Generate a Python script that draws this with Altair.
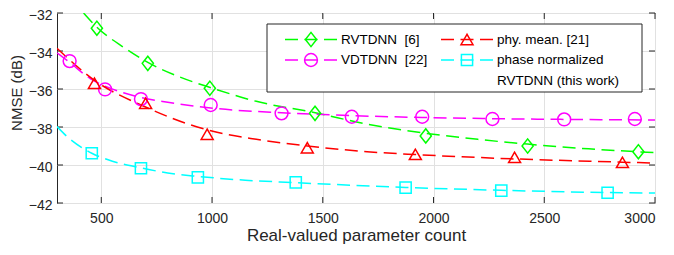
import altair as alt
import pandas as pd

FONT = "Liberation Sans"
TXT = "#262626"

series = ["RVTDNN", "VDTDNN", "phy. mean.", "phase normalized RVTDNN"]
legend_lines = [["RVTDNN\u00a0 [6]"], ["VDTDNN\u00a0 [22]"], ["phy. mean. [21]"],
                ["phase normalized", "RVTDNN (this work)"]]
colors = ["#00ff00", "#ff00ff", "#ff0000", "#00ffff"]
shapes = ["M0,-1.27L1,0L0,1.27L-1,0Z", "circle", "triangle-up", "square"]
sizes = [125, 165, 144, 125]

# marker values
mx_rv = [480, 710, 990, 1465, 1965, 2425, 2925]
my_rv = [-32.8, -34.65, -35.96, -37.28, -38.47, -39.0, -39.3]
mx_vd = [357, 517, 679, 994, 1314, 1631, 1949, 2266, 2590, 2909]
my_vd = [-34.53, -36.02, -36.53, -36.84, -37.28, -37.46, -37.46, -37.58, -37.6, -37.58]
mx_ph = [469, 700, 978, 1430, 1918, 2366, 2853]
my_ph = [-35.7, -36.75, -38.38, -39.09, -39.44, -39.6, -39.86]
mx_pn = [457, 679, 936, 1378, 1874, 2306, 2786]
my_pn = [-39.38, -40.17, -40.65, -40.91, -41.19, -41.35, -41.46]

# fitted (dashed) curve values
cx_rv = [420, 480, 600, 710, 850, 1000, 1200, 1466, 1700, 1964, 2200, 2424, 2700, 3000]
cy_rv = [-32.0, -32.75, -33.8, -34.6, -35.35, -35.95, -36.65, -37.25, -37.85, -38.33, -38.65, -38.9, -39.15, -39.35]
cx_vd = [300, 357, 450, 517, 600, 679, 800, 994, 1314, 1631, 1949, 2266, 2590, 3000]
cy_vd = [-34.1, -34.6, -35.45, -35.85, -36.2, -36.45, -36.7, -37.0, -37.25, -37.4, -37.5, -37.56, -37.6, -37.63]
cx_ph = [300, 470, 700, 978, 1200, 1430, 1700, 1918, 2366, 2853, 3000]
cy_ph = [-33.86, -35.55, -36.95, -38.15, -38.65, -39.0, -39.3, -39.45, -39.68, -39.85, -39.9]
cx_pn = [300, 350, 457, 550, 679, 800, 936, 1150, 1378, 1874, 2306, 2786, 3000]
cy_pn = [-37.98, -38.55, -39.38, -39.8, -40.15, -40.42, -40.6, -40.8, -40.93, -41.18, -41.33, -41.45, -41.48]

x_ticks = [500, 1000, 1500, 2000, 2500, 3000]
y_ticks = [-42, -40, -38, -36, -34, -32]
x_domain = [300, 3000]
y_domain = [-42, -32]

W, H = 598, 190
DASH = [13, 6.5]

markers = [(mx_rv, my_rv), (mx_vd, my_vd), (mx_ph, my_ph), (mx_pn, my_pn)]
curves = [(cx_rv, cy_rv), (cx_vd, cy_vd), (cx_ph, cy_ph), (cx_pn, cy_pn)]

xs = alt.Scale(domain=x_domain, nice=False, zero=False)
ys = alt.Scale(domain=y_domain, nice=False, zero=False)

x_axis = alt.Axis(values=x_ticks, title="Real-valued parameter count",
                  ticks=False, domain=False, labelPadding=8,
                  titlePadding=2, format="d", labelOverlap=False,
                  titleFontSize=17)
y_axis = alt.Axis(values=y_ticks, title="NMSE (dB)",
                  ticks=False, domain=False, labelPadding=5, labelOffset=2,
                  labelOverlap=False, titleFontSize=15,
                  titleX=-40.7, titleY=79.5, titleAngle=270,
                  titleBaseline="middle", titleAlign="center")


def X():
    return alt.X("x:Q", scale=xs, axis=x_axis)


def Y():
    return alt.Y("y:Q", scale=ys, axis=y_axis)


layers = []

# inward tick marks on all four sides
tx = pd.DataFrame({"x": x_ticks})
ty = pd.DataFrame({"y": y_ticks})
tick_style = dict(color=TXT, strokeWidth=1)
layers.append(alt.Chart(tx).mark_rule(**tick_style).encode(
    x=X(), y=alt.value(H), y2=alt.value(H - 6)))
layers.append(alt.Chart(tx).mark_rule(**tick_style).encode(
    x=X(), y=alt.value(0), y2=alt.value(6)))
layers.append(alt.Chart(ty).mark_rule(**tick_style).encode(
    y=Y(), x=alt.value(0), x2=alt.value(6)))
layers.append(alt.Chart(ty).mark_rule(**tick_style).encode(
    y=Y(), x=alt.value(W), x2=alt.value(W - 6)))

for i, name in enumerate(series):
    cx, cy = curves[i]
    dfc = pd.DataFrame({"x": cx, "y": cy})
    layers.append(alt.Chart(dfc).mark_line(color=colors[i], strokeWidth=1.5, strokeDash=DASH,
                                           interpolate="monotone", clip=True).encode(
        x=X(), y=Y()))
for i, name in enumerate(series):
    mx, my = markers[i]
    dfm = pd.DataFrame({"x": mx, "y": my})
    layers.append(alt.Chart(dfm).mark_point(color=colors[i], shape=shapes[i], size=sizes[i],
                                            filled=False, strokeWidth=1.5, opacity=1).encode(
        x=X(), y=Y()))

# legend
one = pd.DataFrame({"a": [0]})
layers.append(alt.Chart(one).mark_rect(fill="white", stroke=TXT, strokeWidth=1).encode(
    x=alt.value(210), x2=alt.value(585), y=alt.value(11), y2=alt.value(79)))
col_x = [228, 384]
row_y = [26.5, 47]
line_gap = 20.5
for i, name in enumerate(series):
    c, r = i // 2, i % 2
    x0 = col_x[c]
    y0 = row_y[r]
    layers.append(alt.Chart(one).mark_rule(color=colors[i], strokeWidth=1.5, strokeDash=DASH).encode(
        x=alt.value(x0), x2=alt.value(x0 + 52), y=alt.value(y0)))
    layers.append(alt.Chart(one).mark_point(color=colors[i], shape=shapes[i], size=sizes[i],
                                            filled=False, strokeWidth=1.5, opacity=1).encode(
        x=alt.value(x0 + 26), y=alt.value(y0)))
    for k, line in enumerate(legend_lines[i]):
        layers.append(alt.Chart(one).mark_text(align="left", baseline="middle", font=FONT,
                                               fontSize=13.5, color="#000000").encode(
            x=alt.value(x0 + 56), y=alt.value(y0 + k * line_gap), text=alt.value(line)))

chart = alt.layer(*layers).properties(
    width=W, height=H,
    background="white",
    autosize=alt.AutoSizeParams(type="none"),
    padding={"left": 49, "top": 5, "right": 11, "bottom": 42},
).configure_view(stroke=TXT, strokeWidth=1).configure_axis(
    labelFont=FONT, labelFontSize=14, labelColor=TXT,
    titleFont=FONT, titleFontWeight="normal", titleColor=TXT,
    gridColor="#e1e1e1", gridWidth=1, gridOpacity=1,
)

chart.save("out.html", embed_options={"renderer": "svg", "actions": False})
